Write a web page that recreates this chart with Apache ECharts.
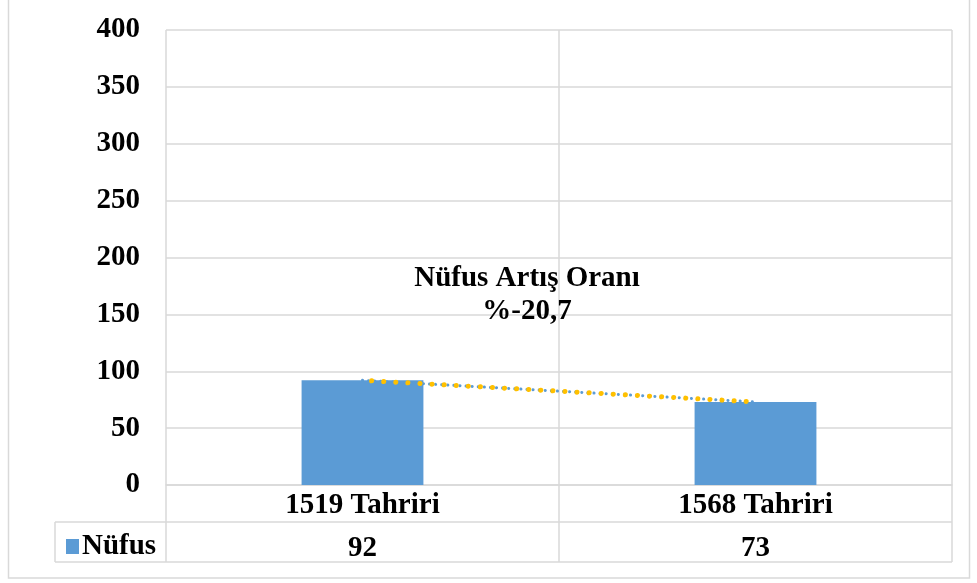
<!DOCTYPE html>
<html>
<head>
<meta charset="utf-8">
<script src="https://cdn.jsdelivr.net/npm/echarts@6/dist/echarts.min.js"></script>
<style>
  html, body { margin: 0; padding: 0; background: #fff; }
  #main { width: 977px; height: 583px; }
</style>
</head>
<body>
<div id="main"></div>
<script>
// veriler
var categories = ['1519 Tahriri', '1568 Tahriri'];
var nufus = [92, 73];
var seriesName = 'Nüfus';
var noteLines = ['Nüfus Artış Oranı', '%-20,7'];

var font = '"Liberation Serif", "Times New Roman", serif';
var gridColor = '#d9d9d9';
var fs = 29;

var chart = echarts.init(document.getElementById('main'));
var option = {
    backgroundColor: '#fff',
    animation: false,
    grid: { left: 166, right: 25, top: 30, bottom: 98 },
    legend: {
        data: [seriesName],
        left: 61, top: 527,
        icon: 'rect', itemWidth: 13, itemHeight: 15, itemGap: 4,
        textStyle: { fontFamily: font, fontWeight: 'bold', fontSize: fs, color: '#000', padding: [0, 0, 0, -2] }
    },
    xAxis: [{
        type: 'category',
        data: categories,
        axisLine: { show: true, lineStyle: { color: gridColor, width: 1.5 } },
        axisTick: { show: true, length: 77, lineStyle: { color: gridColor, width: 1.5 } },
        splitLine: { show: true, lineStyle: { color: gridColor, width: 1.5 } },
        axisLabel: { fontFamily: font, fontWeight: 'bold', fontSize: fs, color: '#000', margin: 6 }
    }, {
        type: 'category',
        data: categories,
        position: 'bottom',
        offset: 39,
        axisLine: { show: false },
        axisTick: { show: false },
        axisLabel: {
            fontFamily: font, fontWeight: 'bold', fontSize: fs, color: '#000', margin: 10,
            formatter: function (v, i) { return String(nufus[i]); }
        }
    }],
    yAxis: {
        type: 'value',
        min: 0, max: 400, interval: 50,
        axisLine: { show: false },
        axisTick: { show: false },
        splitLine: { lineStyle: { color: gridColor, width: 1.5 } },
        axisLabel: { fontFamily: font, fontWeight: 'bold', fontSize: fs, color: '#000', margin: 26 }
    },
    series: [{
        name: seriesName,
        type: 'bar',
        data: nufus,
        barWidth: '31%',
        itemStyle: { color: '#5b9bd5' }
    }, {
        name: 'trend1',
        type: 'line',
        data: nufus,
        symbol: 'none',
        z: 5,
        lineStyle: { color: '#5b9bd5', width: 3, type: [0.1, 6], cap: 'round' }
    }, {
        name: 'trend2',
        type: 'line',
        data: nufus,
        symbol: 'none',
        z: 6,
        lineStyle: { color: '#ffc000', width: 5, type: [0.1, 12], dashOffset: 3, cap: 'round' }
    }],
    graphic: [
        { type: 'rect', shape: { x: 8.5, y: -5, width: 961, height: 583 }, style: { fill: null, stroke: '#d9d9d9', lineWidth: 1.5 } },
        { type: 'line', shape: { x1: 55, y1: 522, x2: 952, y2: 522 }, style: { stroke: gridColor, lineWidth: 1.5 } },
        { type: 'line', shape: { x1: 55, y1: 562, x2: 952, y2: 562 }, style: { stroke: gridColor, lineWidth: 1.5 } },
        { type: 'line', shape: { x1: 55, y1: 522, x2: 55, y2: 562 }, style: { stroke: gridColor, lineWidth: 1.5 } },
        {
            type: 'text', x: 527, y: 262, z: 10,
            style: {
                text: noteLines.join('\n'), align: 'center',
                font: 'bold ' + fs + 'px ' + font, fill: '#000', lineHeight: 33
            }
        }
    ]
};
chart.setOption(option);
</script>
</body>
</html>
